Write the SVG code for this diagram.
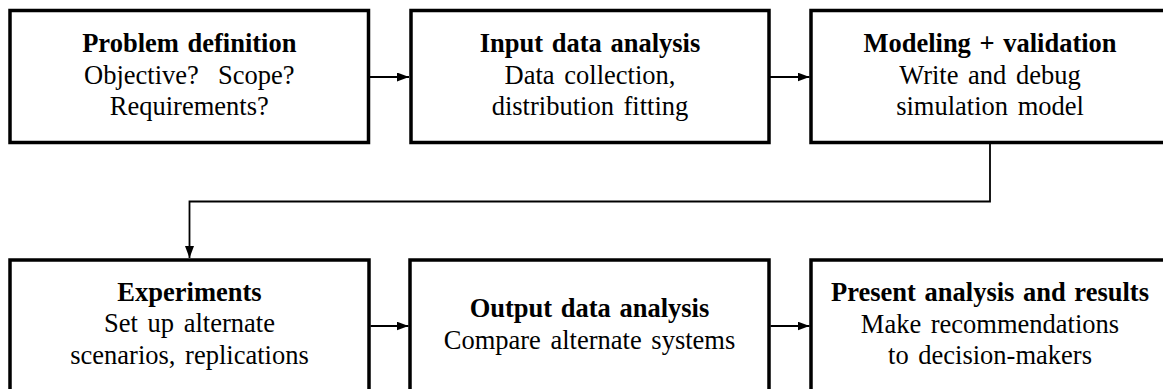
<svg xmlns="http://www.w3.org/2000/svg" width="1163" height="389" viewBox="0 0 1163 389">
<style>
.box{fill:#fff;stroke:#000;stroke-width:3.5}
.t{font-family:"Liberation Serif","Times New Roman",serif;font-size:26.5px;text-anchor:middle;fill:#000;word-spacing:3px}
.b{font-weight:bold;word-spacing:2px}
.c{fill:none;stroke:#000;stroke-width:1.8}
</style>
<defs>
<marker id="ah" markerUnits="userSpaceOnUse" markerWidth="13" markerHeight="10" refX="12" refY="4.5" orient="auto">
<path d="M0,0 L12,4.5 L0,9 z" fill="#000"/>
</marker>
</defs>
<g id="connectors">
<line class="c" x1="370" y1="77" x2="409" y2="77" marker-end="url(#ah)"/>
<line class="c" x1="770" y1="77" x2="809.5" y2="77" marker-end="url(#ah)"/>
<path class="c" d="M990,144 V201.5 H189.5 V258" marker-end="url(#ah)"/>
<line class="c" x1="370.5" y1="326" x2="408.5" y2="326" marker-end="url(#ah)"/>
<line class="c" x1="770.5" y1="326" x2="809.5" y2="326" marker-end="url(#ah)"/>
</g>
<g id="problem-definition">
<rect class="box" x="10" y="10.5" width="358.5" height="132"/>
<text class="t b" x="189.3" y="52">Problem definition</text>
<text class="t" x="189.3" y="83.5">Objective?&#160; Scope?</text>
<text class="t" x="189.3" y="115">Requirements?</text>
</g>
<g id="input-data-analysis">
<rect class="box" x="411" y="10.5" width="358" height="132"/>
<text class="t b" x="590" y="52">Input data analysis</text>
<text class="t" x="590" y="83.5">Data collection,</text>
<text class="t" x="590" y="115">distribution fitting</text>
</g>
<g id="modeling-validation">
<rect class="box" x="811" y="10.5" width="358" height="132"/>
<text class="t b" x="990" y="52">Modeling + validation</text>
<text class="t" x="990" y="83.5">Write and debug</text>
<text class="t" x="990" y="115">simulation model</text>
</g>
<g id="experiments">
<rect class="box" x="10" y="260" width="359" height="132"/>
<text class="t b" x="189.5" y="300.5">Experiments</text>
<text class="t" x="189.5" y="332">Set up alternate</text>
<text class="t" x="189.5" y="363.5">scenarios, replications</text>
</g>
<g id="output-data-analysis">
<rect class="box" x="410" y="260" width="359" height="132"/>
<text class="t b" x="589.5" y="317">Output data analysis</text>
<text class="t" x="589.5" y="348.5">Compare alternate systems</text>
</g>
<g id="present-results">
<rect class="box" x="811" y="260" width="358" height="132"/>
<text class="t b" x="990" y="301">Present analysis and results</text>
<text class="t" x="990" y="332.5">Make recommendations</text>
<text class="t" x="990" y="364">to decision-makers</text>
</g>
</svg>
